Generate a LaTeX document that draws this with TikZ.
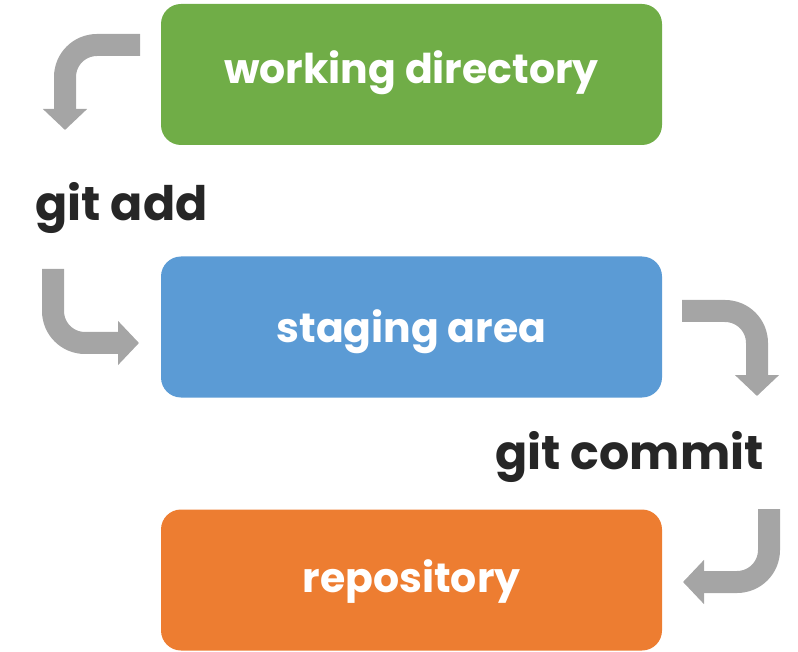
\documentclass[tikz,border=0pt]{standalone}
\usepackage{fontspec}
\setmainfont{Poppins}
\usetikzlibrary{arrows.meta}

\definecolor{wdgreen}{HTML}{70AD47}
\definecolor{sablue}{HTML}{5B9BD5}
\definecolor{repoorange}{HTML}{ED7D31}
\definecolor{flowgray}{HTML}{A5A5A5}
\definecolor{cmdblack}{HTML}{262626}

\begin{document}
\begin{tikzpicture}[x=1pt,y=-1pt,
  area/.style={rounded corners=20pt,minimum width=501pt,minimum height=141pt,
    text=white,text depth=10pt,font=\bfseries\fontsize{41}{41}\selectfont},
  flow/.style={draw=flowgray,line width=22pt,rounded corners=32pt,
    -{Triangle[width=43pt,length=21pt]}},
  cmd/.style={text=cmdblack,anchor=base west,inner sep=0pt,
    font=\bfseries\fontsize{47.5}{47.5}\selectfont}]
\useasboundingbox (0,0) rectangle (798,652);

\node[area,fill=wdgreen,text height=28pt] (wd) at (411.5,74.5) {working directory};
\node[area,fill=sablue,text height=40pt] (sa) at (411.5,327) {staging area};
\node[area,fill=repoorange,text height=34pt] (repo) at (411.5,580) {repository};

\node[cmd] (add) at (35,221) {git add};
\node[cmd] (commit) at (495,469) {git commit};

\coordinate (a1) at (140,45);
\coordinate (a2) at (65,130);
\coordinate (b1) at (53,269);
\coordinate (b2) at (139,343);
\coordinate (c1) at (682,311);
\coordinate (c2) at (757,396);
\coordinate (d1) at (769,509);
\coordinate (d2) at (683,582);

\draw[flow] (a1) -| (a2);
\draw[flow] (b1) |- (b2);
\draw[flow] (c1) -| (c2);
\draw[flow] (d1) |- (d2);
\end{tikzpicture}
\end{document}
